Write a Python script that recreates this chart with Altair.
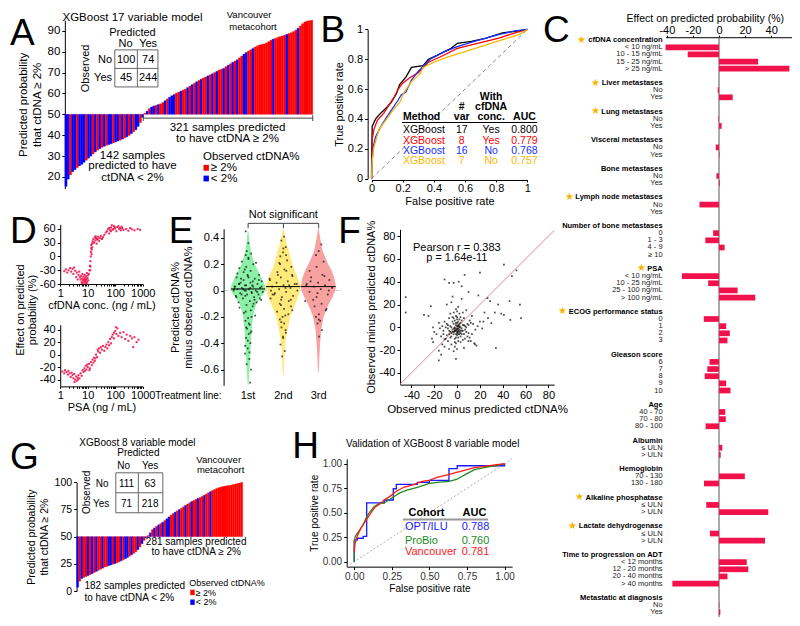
import altair as alt
import pandas as pd

W, H = 784, 610
SX, SY = W / 800.0, H / 626.0


def X(v):
    return round(v * SX, 2)


def Y(v):
    return round(v * SY, 2)


FONT = "Liberation Sans"
LBL = "replace(format(datum.value, '~g'), '\u2212', '-')"
CRIMSON = "#F2124B"
RED = "#FF0000"
BLUE = "#0000FF"
GOLD = "#F5B800"

# ---------------- Panel A: XGBoost 17 variable model ----------------
a_below = [15.5, 19.0, 21.0, 22.5, 23.5, 24.5, 25.3, 26.0, 27.0, 28.0, 29.0, 30.0, 31.0, 32.0,
           32.8, 33.5, 34.2, 34.7, 35.1, 35.5, 35.9, 36.3, 36.8, 37.2, 37.6, 38.1, 38.6, 39.2,
           39.9, 40.7, 41.6, 42.6, 44.2, 46.0, 48.5]
a_above = [50.5, 51.5, 52.8, 53.5, 54.0, 54.3, 54.7, 55.0, 55.6, 56.5, 57.4, 58.2, 58.9, 59.5,
           60.1, 60.6, 61.1, 61.6, 62.1, 62.8, 63.5, 64.2, 64.9, 65.6, 66.2, 66.8, 67.4, 67.9,
           68.4, 68.9, 69.4, 70.0, 70.6, 71.2, 71.6, 72.0, 72.8, 73.5, 74.2, 74.9, 75.5, 76.1,
           77.0, 77.9, 78.8, 79.6, 80.3, 80.9, 81.5, 82.2, 82.8, 83.2, 83.5, 83.7, 84.2, 84.8,
           85.5, 86.0, 86.4, 86.8, 87.2, 87.5, 87.9, 88.3, 88.7, 89.1, 89.6, 90.3, 91.2, 92.3,
           93.4, 94.2, 94.6, 94.8, 95.0]
a_red_in_below = [2, 5, 9, 12, 14, 16, 18, 21, 24, 26, 28, 30, 33]
a_blue_in_above = [1, 3, 4, 6, 9, 11, 12, 13, 16, 19, 21, 23, 25, 28, 30, 32, 35, 37, 39, 41,
                   44, 45, 48, 57, 63, 68]
a_conf = [100, 74, 45, 244]
a_counts = [142, 321]

# ---------------- Panel G: XGBoost 8 variable model ----------------
g_below = [3.5, 9.0, 11.5, 12.5, 13.3, 14.2, 15.0, 16.0, 17.0, 18.0, 19.0, 20.0, 21.0, 22.0,
           22.6, 23.3, 24.0, 24.6, 25.2, 26.0, 26.8, 27.8, 28.8, 29.7, 30.8, 32.0, 33.3, 34.6,
           36.0, 38.0, 40.5, 43.5, 46.5, 49.0]
g_above = [51.0, 53.5, 56.5, 58.0, 59.5, 60.8, 62.0, 63.3, 64.8, 66.5, 68.2, 69.8, 71.2, 72.5,
           73.8, 75.0, 76.1, 77.5, 78.8, 80.0, 81.2, 82.3, 83.3, 84.3, 85.2, 86.0, 87.0, 88.0,
           89.2, 90.3, 91.4, 92.5, 93.4, 94.3, 95.0, 95.6, 96.1, 96.5, 96.8, 97.0, 97.4, 97.9,
           98.4, 98.9, 99.4, 99.8]
g_red_in_below = [1, 3, 4, 6, 8, 10, 11, 13, 14, 17, 19, 20, 22, 25, 27, 28, 30, 32]
g_blue_in_above = [1, 3, 5, 7, 9, 10, 13, 15, 18, 21, 24, 27, 30]
g_conf = [111, 63, 71, 218]
g_counts = [182, 281]

# ---------------- Panel B: ROC curves ----------------
b_fpr_17 = [0, 0.0, 0.004, 0.026, 0.06, 0.1, 0.125, 0.16, 0.18, 0.22, 0.256, 0.33, 0.365, 0.42, 0.51, 0.55, 0.64, 0.73, 0.84, 0.945, 1.0]
b_tpr_17 = [0, 0.1, 0.35, 0.40, 0.44, 0.48, 0.51, 0.57, 0.63, 0.68, 0.745, 0.757, 0.80, 0.826, 0.873, 0.907, 0.92, 0.94, 0.977, 0.99, 1.0]
b_fpr_8 = [0, 0.004, 0.015, 0.037, 0.08, 0.11, 0.147, 0.168, 0.2, 0.245, 0.3, 0.365, 0.44, 0.55, 0.68, 0.81, 0.92, 1.0]
b_tpr_8 = [0, 0.26, 0.33, 0.39, 0.44, 0.49, 0.55, 0.595, 0.64, 0.676, 0.71, 0.78, 0.815, 0.873, 0.907, 0.94, 0.977, 1.0]
b_fpr_16 = [0, 0.0, 0.01, 0.026, 0.06, 0.09, 0.125, 0.17, 0.19, 0.22, 0.256, 0.3, 0.376, 0.464, 0.55, 0.66, 0.814, 0.92, 1.0]
b_tpr_16 = [0, 0.05, 0.21, 0.28, 0.35, 0.40, 0.456, 0.525, 0.56, 0.58, 0.66, 0.72, 0.80, 0.85, 0.884, 0.92, 0.965, 0.99, 1.0]
b_fpr_7 = [0, 0.004, 0.015, 0.048, 0.09, 0.136, 0.18, 0.21, 0.256, 0.31, 0.33, 0.4, 0.486, 0.595, 0.7, 0.836, 0.945, 1.0]
b_tpr_7 = [0, 0.12, 0.21, 0.33, 0.39, 0.456, 0.51, 0.58, 0.65, 0.70, 0.745, 0.78, 0.815, 0.85, 0.884, 0.93, 0.965, 1.0]
b_method = ["XGBoost", "XGBoost", "XGBoost", "XGBoost"]
b_nvar = [17, 8, 16, 7]
b_cfdna = ["Yes", "Yes", "No", "No"]
b_auc = [0.800, 0.779, 0.768, 0.757]
b_colors = ["black", RED, "#1530FF", GOLD]

# ---------------- Panel C: effect sizes ----------------
c_groups = ["cfDNA concentration", "Liver metastases", "Lung metastases", "Visceral metastases",
            "Bone metastases", "Lymph node metastases", "Number of bone metastases", "PSA",
            "ECOG performance status", "Gleason score", "Age", "Albumin", "Hemoglobin",
            "Alkaline phosphatase", "Lactate dehydrogenase", "Time to progression on ADT",
            "Metastatic at diagnosis"]
c_starred = [True, True, True, False, False, True, False, True, True, False, False, False, False,
             True, True, False, False]
c_levels = [["< 10 ng/mL", "10 - 15 ng/mL", "15 - 25 ng/mL", "> 25 ng/mL"],
            ["No", "Yes"], ["No", "Yes"], ["No", "Yes"], ["No", "Yes"], ["No", "Yes"],
            ["0", "1 - 3", "4 - 9", "\u2265 10"],
            ["< 10 ng/mL", "10 - 25 ng/mL", "25 - 100 ng/mL", "> 100 ng/mL"],
            ["0", "1", "2", "3"], ["6", "7", "8", "9", "10"],
            ["40 - 70", "70 - 80", "80 - 100"], ["\u2264 ULN", "> ULN"], ["70 - 130", "130 - 180"],
            ["\u2264 ULN", "> ULN"], ["\u2264 ULN", "> ULN"],
            ["< 12 months", "12 - 20 months", "20 - 40 months", "> 40 months"], ["No", "Yes"]]
c_effects = [[-41, -24, 30, 54], [-1, 10.5], [-0.4, 2], [-2.5, 0.4], [-2, 0.6], [-15, 0],
             [-4.5, -10.5, 4.3, 0], [-28.5, -8.3, 14.3, 27.8], [-11.7, 5.5, 8.3, 6.5],
             [-7.3, -9, -11, 5.5, 8.8], [4.8, 5.2, -10.3], [2.5, 1.3], [19.8, -11.5],
             [-9.8, 37.8], [-7, 35.3], [21.3, 22.5, 6.5, -35.8], [0.3, 1]]

# ---------------- Panel D: partial dependence ----------------
d_cfdna = [(1.4, -32), (1.6, -28), (1.8, -35), (2.0, -30), (2.3, -25), (2.5, -33), (2.8, -27),
           (3.0, -38), (3.2, -24), (3.5, -31), (3.8, -45), (4.0, -35), (4.3, -50), (4.6, -40),
           (4.9, -33), (5.2, -45), (5.5, -50), (5.8, -42), (6.0, -55), (6.3, -48), (6.5, -38),
           (6.8, -52), (7.0, -44), (7.2, -57), (7.5, -49), (7.8, -40), (8.0, -53), (8.2, -46),
           (8.5, -58), (8.8, -43), (9.0, -50), (9.3, -36), (9.5, -55), (9.8, -47), (10.2, -41),
           (10.5, -52), (11, -38), (11.5, -30), (12, -20), (12.5, -10), (12.8, 0), (13, 10),
           (13.3, 18), (13.5, 25), (13.8, 5), (14, 15), (14.3, 28), (14.6, 20), (15, 33),
           (16, 38), (17, 30), (18, 42), (19, 35), (20, 40), (21, 28), (22, 37), (24, 43),
           (26, 34), (28, 40), (30, 45), (33, 38), (36, 42), (40, 47), (45, 52), (50, 55),
           (55, 60), (60, 50), (65, 57), (70, 63), (75, 68), (80, 58), (85, 60), (90, 66),
           (95, 64), (100, 61), (110, 55), (120, 64), (130, 66), (140, 60), (150, 62), (160, 57),
           (170, 65), (180, 62), (200, 58), (250, 60), (300, 56), (350, 62), (400, 59),
           (500, 57), (650, 60), (800, 58), (6.2, -58), (7.7, -54), (9.1, -59), (8.3, -51),
           (12.2, -30), (12.6, -22), (16.5, 31), (19.5, 44), (23, 38), (60, 62), (70, 55)]
d_psa = [(1.2, -27), (1.4, -30), (1.5, -25), (1.7, -28), (1.9, -32), (2.0, -26), (2.2, -30),
         (2.4, -36), (2.6, -29), (2.8, -33), (3.0, -38), (3.2, -31), (3.5, -40), (3.8, -35),
         (4.0, -42), (4.3, -37), (4.6, -33), (5.0, -38), (5.5, -30), (6, -34), (6.5, -25),
         (7, -28), (7.5, -22), (8, -26), (8.5, -18), (9, -24), (10, -20), (11, -15), (12, -22),
         (13, -12), (14, -17), (15, -8), (16, -13), (17, -5), (18, -10), (20, 0), (22, -4),
         (24, 5), (26, 10), (28, 3), (30, 12), (33, 8), (36, 14), (40, 6), (44, 12), (48, 16),
         (52, 10), (56, 20), (60, 15), (65, 25), (70, 18), (75, 28), (80, 32), (90, 26),
         (100, 38), (110, 33), (120, 42), (130, 30), (150, 35), (170, 28), (200, 36), (230, 25),
         (260, 32), (300, 22), (350, 30), (400, 26), (450, 12), (500, 28), (600, 20), (700, 24),
         (3.3, -44), (4.5, -40), (9.5, -16), (11.5, -25), (19, -6), (23, 8), (90, 35), (105, 44)]

# ---------------- Panel E: residuals by treatment line ----------------
e_lines = ["1st", "2nd", "3rd"]
e_colors = ["#8CF0A6", "#FFE97A", "#F7A1A1"]
e_medians = [0.012, 0.03, 0.03]
e1_y = [0.45, 0.40, 0.35, 0.30, 0.25, 0.20, 0.15, 0.10, 0.05, 0.02, -0.02, -0.05, -0.10, -0.15,
        -0.20, -0.30, -0.40, -0.50, -0.60, -0.72]
e1_w = [0.01, 0.03, 0.05, 0.08, 0.13, 0.19, 0.28, 0.38, 0.46, 0.50, 0.45, 0.36, 0.24, 0.18,
        0.14, 0.10, 0.08, 0.06, 0.04, 0.01]
e2_y = [0.47, 0.40, 0.35, 0.30, 0.25, 0.20, 0.15, 0.10, 0.05, 0.03, 0.0, -0.05, -0.10, -0.15,
        -0.20, -0.30, -0.40, -0.50, -0.65]
e2_w = [0.01, 0.06, 0.10, 0.16, 0.21, 0.26, 0.33, 0.41, 0.48, 0.50, 0.47, 0.42, 0.35, 0.27,
        0.20, 0.12, 0.06, 0.035, 0.01]
e3_y = [0.47, 0.40, 0.30, 0.20, 0.15, 0.10, 0.05, 0.03, 0.0, -0.05, -0.10, -0.15, -0.20, -0.30,
        -0.40, -0.50, -0.62]
e3_w = [0.01, 0.05, 0.12, 0.28, 0.38, 0.45, 0.49, 0.50, 0.48, 0.40, 0.30, 0.22, 0.15, 0.08,
        0.05, 0.03, 0.01]
e1_pts = [0.30, 0.28, 0.25, 0.22, 0.20, 0.18, 0.17, 0.15, 0.14, 0.12, 0.11, 0.10, 0.09, 0.08,
          0.07, 0.06, 0.05, 0.05, 0.04, 0.03, 0.03, 0.02, 0.02, 0.01, 0.01, 0.0, 0.0, -0.01,
          -0.01, -0.02, -0.03, -0.03, -0.04, -0.05, -0.06, -0.07, -0.08, -0.09, -0.10, -0.11,
          -0.13, -0.15, -0.17, -0.19, -0.21, -0.23, -0.26, -0.29, -0.31, -0.33, -0.36, -0.40,
          -0.44, -0.48, -0.52, -0.56, -0.60, 0.36, 0.45, -0.70, 0.04, 0.0, -0.02, 0.06, 0.08,
          0.12, -0.05, -0.07, 0.01, 0.03, 0.02, 0.05, -0.01, 0.0, 0.03, 0.07, -0.03, -0.06,
          0.10, 0.13, -0.12, -0.16, -0.20, -0.25, -0.28, -0.32, -0.38, -0.42, -0.47, 0.16, 0.21,
          0.24, 0.27, -0.09, -0.04, 0.01, 0.04, 0.09]
e2_pts = [0.41, 0.38, 0.33, 0.29, 0.26, 0.23, 0.20, 0.18, 0.16, 0.14, 0.12, 0.10, 0.09, 0.07,
          0.06, 0.05, 0.04, 0.03, 0.02, 0.01, 0.0, -0.01, -0.02, -0.04, -0.05, -0.06, -0.08,
          -0.10, -0.12, -0.14, -0.16, -0.18, -0.20, -0.22, -0.25, -0.28, -0.32, -0.36, -0.41,
          -0.46, -0.50, 0.05, 0.02, -0.03, 0.11, -0.07, 0.08, 0.15, 0.21, 0.27, 0.32, -0.03,
          -0.07, -0.11, -0.15, -0.19, -0.24, -0.30, -0.35, 0.0, 0.04, 0.12]
e3_pts = [0.35, 0.30, 0.27, 0.22, 0.18, 0.15, 0.12, 0.10, 0.08, 0.06, 0.05, 0.04, 0.03, 0.02,
          0.01, -0.01, -0.03, -0.05, -0.08, -0.10, -0.12, -0.15, -0.18, -0.20, -0.23, -0.25,
          -0.30, -0.35, 0.07, 0.0, -0.02, 0.04, 0.11, -0.07, -0.14, -0.22]

# ---------------- Panel F: observed vs predicted ----------------
f_points = [(-2, -3), (0, -1), (1, -4), (-1, 2), (3, 0), (-4, -2), (2, 3), (-3, -6), (0, -7),
            (4, -3), (-6, 1), (1, 5), (-1, -9), (5, 2), (-5, -5), (2, -2), (-2, 6), (6, -6),
            (0, 1), (-3, 3), (3, -8), (-7, -3), (1, -12), (-1, 10), (7, 1), (-8, 2), (4, 6),
            (-4, 9), (2, 12), (-2, -13), (0, 14), (5, -11), (-6, -9), (8, -4), (-9, -7), (3, 9),
            (-10, 0), (9, 3), (1, -1), (-1, -2), (0, -4), (2, 0), (-2, -1), (1, 2), (-3, -4),
            (3, -3), (0, 4), (-1, -6), (2, -6), (-5, 0), (4, -1), (0, 7), (-1, 16), (1, 18),
            (-3, 13), (6, 8), (-8, -12), (10, -5), (-12, -3), (-14, -8), (11, 6), (12, -12),
            (-11, 5), (14, 3), (-15, -1), (16, -2), (-16, 4), (13, 10), (-13, -15), (15, -14),
            (-18, -6), (18, 1), (-20, -4), (20, 5), (-22, -10), (22, -1), (-21, 0), (17, -16),
            (-9, 20), (8, 15), (-5, 22), (4, 25), (-7, -19), (6, -18), (-3, -21), (-11, -17),
            (-45, 26.5), (-45, 13), (-23, 18.5), (-29, 11), (-25, 10), (-11, 42), (-7, 39),
            (-3, 39), (1.4, 40), (4, 36), (6.6, 46), (-4, 27), (10, 31), (20, 48), (18.6, 28),
            (26.6, 25.6), (29, 23), (41, 55), (48, 45), (46, 23), (52, 50), (36, 20),
            (38.6, 12), (41, 11), (46.6, 6.5), (24, 13), (27, 8), (30, 3.7), (23, 5), (34, -18),
            (-16, -20.5), (-14, -24), (-16, -29), (-1, -27.6), (-11, -10.5), (-21, -13),
            (15.7, -15), (10, -12), (33, 13), (55, 20), (56, 8), (-2, -3.5), (1, -2.5),
            (-1, -3), (0, -5), (1, -6), (2, -4), (-3, -1), (-4, -4), (3, -5), (1, 1), (-2, 0),
            (0, -2), (2, 1), (-1, 4), (-5, -8), (4, -6), (-6, -4), (5, -3), (3, 4), (-4, 5),
            (6, 2), (-2, -10), (1, -9), (-7, -6), (7, -2), (-3, 8), (2, 7), (-8, -1), (8, 0),
            (0, 9), (-1, -14), (3, -13), (-9, 3), (9, -8), (-10, -10), (10, 2), (-12, -6),
            (12, 4), (-13, 1), (13, -6), (-6, 12), (5, 13), (-2, -17), (0, -19), (-5, -15),
            (7, -10), (-7, 8), (11, -9)]
f_r, f_p = 0.383, "1.64e-11"

# ---------------- Panel H: validation ROC ----------------
h_opt_fpr = [0, 0, 0.02, 0.02, 0.06, 0.06, 0.083, 0.083, 0.2, 0.2, 0.26, 0.26, 0.28, 0.28, 0.42,
             0.42, 0.5, 0.5, 0.63, 0.63, 0.685, 0.685, 1.0, 1.0]
h_opt_tpr = [0, 0.22, 0.22, 0.24, 0.24, 0.26, 0.26, 0.60, 0.60, 0.63, 0.63, 0.745, 0.745, 0.79,
             0.79, 0.81, 0.81, 0.83, 0.83, 0.95, 0.95, 0.98, 0.98, 1.0]
h_pro_fpr = [0, 0, 0.005, 0.02, 0.04, 0.06, 0.08, 0.1, 0.13, 0.16, 0.2, 0.25, 0.3, 0.35, 0.42,
             0.5, 0.55, 0.63, 0.68, 0.75, 0.8, 0.9, 0.95, 1.0]
h_pro_tpr = [0, 0.15, 0.25, 0.29, 0.33, 0.38, 0.45, 0.5, 0.56, 0.59, 0.6, 0.65, 0.7, 0.73, 0.76,
             0.8, 0.81, 0.82, 0.84, 0.9, 0.94, 0.97, 0.98, 1.0]
h_van_fpr = [0, 0.005, 0.02, 0.04, 0.06, 0.09, 0.12, 0.14, 0.17, 0.2, 0.24, 0.28, 0.33, 0.4,
             0.45, 0.5, 0.55, 0.6, 0.65, 0.7, 0.8, 0.9, 1.0]
h_van_tpr = [0.1, 0.18, 0.26, 0.33, 0.38, 0.45, 0.52, 0.56, 0.59, 0.63, 0.67, 0.72, 0.76, 0.79,
             0.82, 0.83, 0.86, 0.88, 0.9, 0.92, 0.96, 0.98, 1.0]
h_cohorts = ["OPT/ILU", "ProBio", "Vancouver"]
h_auc = [0.788, 0.760, 0.781]
h_colors = ["#1A1AFF", "#228B22", "#FF1A1A"]


# ====================== helpers ======================
def ax(orient, pos, **kw):
    if orient == "left":
        off = -X(pos)
    elif orient == "bottom":
        off = Y(pos) - H
    else:
        off = -Y(pos)
    base = dict(orient=orient, offset=off, grid=False, labelExpr=LBL, labelFlush=False,
                labelOverlap=False)
    base.update(kw)
    return alt.Axis(**base)


def lin(domain, r0, r1):
    return alt.Scale(domain=domain, range=[r0, r1], nice=False, zero=False)


def texts(items, size=11, align="center", baseline="middle", color="black", weight="normal",
          angle=0):
    df = pd.DataFrame([(X(a), Y(b), t) for a, b, t in items], columns=["px", "py", "t"])
    return alt.Chart(df).mark_text(fontSize=size, align=align, baseline=baseline, color=color,
                                   fontWeight=weight, angle=angle, font=FONT).encode(
        x=alt.X("px:Q", scale=None, axis=None), y=alt.Y("py:Q", scale=None, axis=None),
        text="t:N")


def segs(items, color="black", width=1.0, dash=None):
    df = pd.DataFrame([(X(a), Y(b), X(c), Y(d)) for a, b, c, d in items],
                      columns=["x1", "y1", "x2", "y2"])
    kw = dict(color=color, strokeWidth=width)
    if dash:
        kw["strokeDash"] = dash
    return alt.Chart(df).mark_rule(**kw).encode(
        x=alt.X("x1:Q", scale=None, axis=None), x2="x2:Q",
        y=alt.Y("y1:Q", scale=None, axis=None), y2="y2:Q")


def boxes(items, fill="white", fill_opacity=0.0, stroke=None, width=1.0):
    df = pd.DataFrame([(X(a), Y(b), X(c), Y(d)) for a, b, c, d in items],
                      columns=["x1", "y1", "x2", "y2"])
    kw = dict(fill=fill, fillOpacity=fill_opacity)
    if stroke:
        kw.update(stroke=stroke, strokeWidth=width)
    return alt.Chart(df).mark_rect(**kw).encode(
        x=alt.X("x1:Q", scale=None, axis=None), x2="x2:Q",
        y=alt.Y("y1:Q", scale=None, axis=None), y2="y2:Q")


def waterfall(below, above, red_idx, blue_idx, x0, x1, yscale, yaxis):
    vals = below + above
    cols = [RED if i in red_idx else BLUE for i in range(len(below))] + \
           [BLUE if j in blue_idx else RED for j in range(len(above))]
    df = pd.DataFrame({"i": list(range(len(vals))), "i2": [k + 1 for k in range(len(vals))],
                       "v": vals, "c": cols})
    return alt.Chart(df).mark_rect(strokeWidth=0.3).encode(
        x=alt.X("i:Q", scale=lin([0, len(vals)], X(x0), X(x1)), axis=None),
        x2="i2:Q",
        y=alt.Y("v:Q", scale=yscale, axis=yaxis),
        y2=alt.Y2Datum(50),
        color=alt.Color("c:N", scale=None),
        stroke=alt.Stroke("c:N", scale=None))


BW = {" ": 278, "a": 556, "b": 611, "c": 556, "d": 611, "e": 556, "f": 333, "g": 611, "h": 611,
      "i": 278, "j": 278, "k": 556, "l": 278, "m": 889, "n": 611, "o": 611, "p": 611, "q": 611,
      "r": 389, "s": 556, "t": 333, "u": 611, "v": 556, "w": 778, "x": 556, "y": 556, "z": 500,
      "A": 722, "C": 722, "D": 722, "E": 667, "G": 778, "L": 611, "N": 722, "O": 778, "P": 667,
      "S": 667, "T": 611}


def bold_width(s, size):
    return sum(BW.get(ch, 600) for ch in s) / 1000.0 * size


layers = []

# ====================== Panel A ======================
yA = lin([14.5, 95], Y(185.2), Y(12.6))
layers.append(waterfall(a_below, a_above, a_red_in_below, a_blue_in_above, 58, 311, yA,
                        ax("left", 58, values=list(range(20, 91, 10)),
                           title=["Predicted probability", "that ctDNA \u2265 2%"],
                           titlePadding=5, labelFontSize=11.5, titleFontSize=11.5,
                           tickSize=3)))
layers.append(texts([(127, 10, "XGBoost 17 variable model")], size=11.5))
layers.append(texts([(246, 7, "Vancouver"), (250, 19.5, "metacohort")], size=9.5))
layers.append(texts([(127, 26, "Predicted"), (120, 37, "No"), (143, 37, "Yes"),
                     (99, 53, "No"), (97, 72, "Yes"),
                     (120.5, 53, str(a_conf[0])), (143, 53, str(a_conf[1])),
                     (120.5, 72, str(a_conf[2])), (143, 72, str(a_conf[3]))], size=11))
layers.append(texts([(80, 62, "Observed")], size=11, angle=270))
layers.append(boxes([(109, 43, 153, 81)], stroke="#666666", width=1))
layers.append(segs([(132, 43, 132, 81), (109, 62, 153, 62)], color="#666666"))
layers.append(segs([(138, 113, 311, 113), (138, 110, 138, 116), (311, 110, 311, 116)],
                   color="#444444", width=1))
layers.append(texts([(224, 123, f"{a_counts[1]} samples predicted"),
                     (224, 134, "to have ctDNA \u2265 2%"),
                     (127, 151.5, f"{a_counts[0]} samples"), (127, 162.5, "predicted to have"),
                     (127, 174, "ctDNA < 2%")], size=11.5))
layers.append(texts([(199, 153, "Observed ctDNA%"), (207, 164, "\u2265 2%"),
                     (207, 175, "< 2%")], size=11.5, align="left"))
layers.append(boxes([(199.5, 161, 205, 167)], fill=RED, fill_opacity=1))
layers.append(boxes([(199.5, 172, 205, 178)], fill=BLUE, fill_opacity=1))

# ====================== Panel G ======================
yG = lin([0, 100], Y(598.3), Y(486.7))
layers.append(waterfall(g_below, g_above, g_red_in_below, g_blue_in_above, 70, 239.5, yG,
                        ax("left", 70, values=[0, 25, 50, 75, 100],
                           title=["Predicted probability", "that ctDNA \u2265 2%"],
                           titlePadding=5, labelFontSize=10.5, titleFontSize=10.5,
                           tickSize=3)))
layers.append(texts([(132, 446, "XGBoost 8 variable model"), (133, 457, "Predicted"),
                     (118, 470, "No"), (145, 470, "Yes"), (96, 488, "No"), (95, 509, "Yes"),
                     (121, 488, str(g_conf[0])), (145, 488, str(g_conf[1])),
                     (121, 509, str(g_conf[2])), (145, 509, str(g_conf[3])),
                     (192, 548.5, f"{g_counts[1]} samples predicted"),
                     (192, 558.5, "to have ctDNA \u2265 2%")], size=10))
layers.append(texts([(81, 497, "Observed")], size=10, angle=270))
layers.append(texts([(215, 464, "Vancouver"), (217, 474.5, "metacohort")], size=9.5))
layers.append(texts([(78, 593, f"{g_counts[0]} samples predicted"),
                     (78, 605, "to have ctDNA < 2%")], size=10, align="left"))
layers.append(texts([(185, 590, "Observed ctDNA%"), (191.5, 600, "\u2265 2%"),
                     (191.5, 610, "< 2%")], size=9, align="left"))
layers.append(boxes([(186, 597, 190.5, 602.5)], fill=RED, fill_opacity=1))
layers.append(boxes([(186, 607, 190.5, 612.5)], fill=BLUE, fill_opacity=1))
layers.append(boxes([(110, 477, 158, 518)], stroke="#666666", width=1))
layers.append(segs([(133, 477, 133, 518), (110, 497.5, 158, 497.5)], color="#666666"))

# ====================== Panel B ======================
xB = lin([0, 1], X(371), X(530))
yB = lin([0, 1], Y(175), Y(22))
b_rows = []
for name, fx, ty, col in [("17", b_fpr_17, b_tpr_17, b_colors[0]),
                          ("8", b_fpr_8, b_tpr_8, b_colors[1]),
                          ("16", b_fpr_16, b_tpr_16, b_colors[2]),
                          ("7", b_fpr_7, b_tpr_7, b_colors[3])]:
    for k, (a, b) in enumerate(zip(fx, ty)):
        b_rows.append({"m": name, "k": k, "fpr": a, "tpr": b, "c": col})
b_df = pd.DataFrame(b_rows)
b_diag = alt.Chart(pd.DataFrame({"fpr": [0, 1], "tpr": [0, 1]})).mark_line(
    color="#888888", strokeDash=[4, 3], strokeWidth=1).encode(
    x=alt.X("fpr:Q", scale=xB, axis=ax("bottom", 176.5, values=[0, 0.2, 0.4, 0.6, 0.8, 1],
                                       title="False positive rate", tickSize=2, labelPadding=1,
                                       titlePadding=2)),
    y=alt.Y("tpr:Q", scale=yB, axis=ax("left", 367, values=[0, 0.2, 0.4, 0.6, 0.8, 1],
                                       title="True positive rate", tickSize=3, titlePadding=3)))
b_lines = alt.Chart(b_df).mark_line(strokeWidth=1.3).encode(
    x=alt.X("fpr:Q", scale=xB), y=alt.Y("tpr:Q", scale=yB),
    color=alt.Color("c:N", scale=None), detail="m:N", order="k:Q")
layers.append(alt.layer(b_diag, b_lines))
layers.append(texts([(463, 101.5, "#"), (493, 91.5, "With"), (493, 101.5, "cfDNA"),
                     (463, 111.5, "var"), (493, 111.5, "conc."), (527, 111.5, "AUC")],
                    size=10.5, weight="bold"))
layers.append(texts([(403, 111.5, "Method")], size=10.5, weight="bold", align="left"))
layers.append(segs([(402, 117.5, 540, 117.5)], color="black", width=1))
for r, yy in enumerate([125.5, 136, 146.5, 157]):
    col = b_colors[r]
    layers.append(texts([(403, yy, b_method[r])], size=10.5, align="left", color=col))
    layers.append(texts([(463, yy, str(b_nvar[r])), (493, yy, b_cfdna[r]),
                         (527, yy, f"{b_auc[r]:.3f}")], size=10.5, color=col))

# ====================== Panel C ======================
rows = []
rid = 0
for gi, name in enumerate(c_groups):
    rows.append({"rid": rid, "kind": "h", "label": name, "v": None, "star": c_starred[gi]})
    rid += 1
    for lvl, v in zip(c_levels[gi], c_effects[gi]):
        rows.append({"rid": rid, "kind": "l", "label": lvl, "v": v, "star": False})
        rid += 1
    if gi < len(c_groups) - 1:
        rows.append({"rid": rid, "kind": "g", "label": "", "v": None, "star": False})
        rid += 1
c_df = pd.DataFrame(rows)
c_ids = list(range(rid))
cy_scale = alt.Scale(domain=c_ids, range=[Y(29.3), Y(623.7)], paddingInner=0.2,
                     paddingOuter=0.1)
cx_scale = lin([-41, 56], X(671), X(800))
cY = alt.Y("rid:O", scale=cy_scale, axis=None)
c_bar_df = c_df[c_df["kind"] == "l"][["rid", "v"]]
c_bars = alt.Chart(c_bar_df).mark_bar(color=CRIMSON).encode(
    x=alt.X("v:Q", scale=cx_scale,
            axis=ax("top", 30, values=[-40, -20, 0, 20, 40],
                    title="Effect on predicted probability (%)", tickSize=2, labelPadding=0,
                    labelFontSize=11, titleFontSize=10.5, titleX=X(711), titleY=Y(11) - Y(30),
                    titleBaseline="middle", titleAnchor="middle")),
    x2=alt.X2Datum(0), y=cY)
c_zero = alt.Chart(pd.DataFrame({"z": [0]})).mark_rule(color="#555555", strokeWidth=1).encode(
    x=alt.XDatum(0), y=alt.value(Y(30)), y2=alt.value(Y(625)))
C_FS = 7.5
c_lvl = alt.Chart(c_df[c_df["kind"] == "l"][["rid", "label"]]).mark_text(
    align="right", baseline="middle", dx=-3, fontSize=C_FS, color="#222222", font=FONT).encode(
    x=alt.XDatum(-41), y=cY, text="label:N")
c_hdr = alt.Chart(c_df[c_df["kind"] == "h"][["rid", "label"]]).mark_text(
    align="right", baseline="middle", dx=-3, fontSize=C_FS, fontWeight="bold", color="black",
    font=FONT).encode(x=alt.XDatum(-41), y=cY, text="label:N")
c_layers = [c_zero, c_bars, c_lvl, c_hdr]
for _, r in c_df[(c_df["kind"] == "h") & (c_df["star"])].iterrows():
    wdt = bold_width(r["label"], C_FS)
    c_layers.append(alt.Chart(pd.DataFrame({"rid": [int(r["rid"])]})).mark_text(
        text="\u2605", color="#F5B400", fontSize=10, align="center", baseline="middle",
        dx=-(3 + wdt + 6), dy=-0.5).encode(x=alt.XDatum(-41), y=cY))
layers.append(alt.layer(*c_layers))

# ====================== Panel D ======================
LOGTICKS = [1, 2, 3, 4, 5, 6, 7, 8, 9, 10, 20, 30, 40, 50, 60, 70, 80, 90, 100, 200, 300, 400,
            500, 600, 700, 800, 900, 1000]
LOGLBL = "indexof([1, 10, 100, 1000], datum.value) >= 0 ? format(datum.value, 'd') : ''"


def dpanel(points, ydom, ybot, ytop, yticks, xaxis_y, xtitle):
    df = pd.DataFrame(points, columns=["conc", "eff"])
    return alt.Chart(df).mark_square(size=4, color=CRIMSON, opacity=0.9).encode(
        x=alt.X("conc:Q", scale=alt.Scale(type="log", domain=[1, 1000],
                                          range=[X(53.3), X(137.5)], nice=False),
                axis=ax("bottom", xaxis_y, values=LOGTICKS, labelExpr=LOGLBL, title=xtitle,
                        tickSize=2, labelPadding=1, titlePadding=1)),
        y=alt.Y("eff:Q", scale=lin(ydom, Y(ybot), Y(ytop)),
                axis=ax("left", 53.3, values=yticks, title=None, tickSize=3)))


layers.append(dpanel(d_cfdna, [-60, 70], 283.3, 222, [-60, -30, 0, 30, 60], 283.3,
                     "cfDNA conc. (ng / mL)"))
layers.append(dpanel(d_psa, [-51, 48], 388.3, 325, [-40, -20, 0, 20, 40], 388.3,
                     "PSA (ng / mL)"))
layers.append(texts([(13, 310, "Effect on predicted"), (25.5, 310, "probability (%)")],
                    size=11, angle=270))

# ====================== Panel E ======================
xE = lin([0.303, 3.65], X(220), X(340))
yE = lin([-0.72, 0.47], Y(387.2), Y(226.5))
v_rows = []
for g, (ys, ws) in enumerate([(e1_y, e1_w), (e2_y, e2_w), (e3_y, e3_w)], start=1):
    for yy, ww in zip(ys, ws):
        v_rows.append({"g": g, "y": yy, "xl": g - ww, "xr": g + ww, "c": e_colors[g - 1]})
v_df = pd.DataFrame(v_rows)
p_rows = []
for g, pts in enumerate([e1_pts, e2_pts, e3_pts], start=1):
    for i, yy in enumerate(pts):
        u = ((i * 0.618034 + g * 0.31) % 1.0) * 2 - 1
        d = abs(yy - 0.02)
        amp = 0.42 if d < 0.12 else (0.26 if d < 0.22 else 0.1)
        p_rows.append({"x": g + u * amp, "y": yy})
p_df = pd.DataFrame(p_rows)
m_df = pd.DataFrame({"m1": [g - 0.49 for g in (1, 2, 3)], "m2": [g + 0.49 for g in (1, 2, 3)],
                     "y": e_medians})
e_zero = alt.Chart(pd.DataFrame({"x1": [0.35], "x2": [3.65], "y": [0]})).mark_rule(
    color="#BBBBBB", strokeWidth=0.8, strokeDash=[3, 2]).encode(
    x=alt.X("x1:Q", scale=xE, axis=None), x2="x2:Q",
    y=alt.Y("y:Q", scale=yE,
            axis=ax("left", 220, values=[-0.6, -0.4, -0.2, 0, 0.2, 0.4],
                    title=["Predicted ctDNA%", "minus observed ctDNA%"], tickSize=3,
                    titlePadding=6)))
violins = []
for g in (1, 2, 3):
    violins.append(alt.Chart(v_df[v_df["g"] == g]).mark_area(
        orient="horizontal", opacity=1, color=e_colors[g - 1], interpolate="linear").encode(
        x=alt.X("xl:Q", scale=xE, stack=False), x2="xr:Q",
        y=alt.Y("y:Q", scale=yE, stack=False)))
e_pts = alt.Chart(p_df).mark_square(size=3, color="black").encode(
    x=alt.X("x:Q", scale=xE), y=alt.Y("y:Q", scale=yE))
e_med = alt.Chart(m_df).mark_rule(color="black", strokeWidth=1).encode(
    x=alt.X("m1:Q", scale=xE), x2="m2:Q", y=alt.Y("y:Q", scale=yE))
layers.append(alt.layer(e_zero, *violins, e_pts, e_med))
layers.append(texts([(281, 212, "Not significant"), (245, 398, e_lines[0]),
                     (281, 398, e_lines[1]), (317, 398, e_lines[2])], size=11))
layers.append(texts([(218, 398, "Treatment line:")], size=10, align="right"))
layers.append(segs([(245, 221, 317, 221), (245, 221, 245, 226), (281, 221, 281, 226),
                    (317, 221, 317, 226)], color="#444444", width=1))

# ====================== Panel F ======================
xF = lin([-50, 85], X(400), X(557.3))
yF = lin([-50, 86], Y(386.2), Y(227.1))
f_df = pd.DataFrame(f_points, columns=["obs", "pred"])
f_diag = alt.Chart(pd.DataFrame({"obs": [-50, 85], "pred": [-50, 85]})).mark_line(
    color="#F08080", strokeWidth=1).encode(
    x=alt.X("obs:Q", scale=xF, axis=ax("bottom", 386.5, values=list(range(-40, 81, 20)),
                                       title="Observed minus predicted ctDNA%", tickSize=3,
                                       titlePadding=3, titleFontSize=11.5)),
    y=alt.Y("pred:Q", scale=yF, axis=ax("left", 400, values=list(range(-40, 81, 20)),
                                        title="Observed minus predicted ctDNA%", tickSize=3,
                                        titlePadding=3, titleFontSize=11)))
f_pts = alt.Chart(f_df).mark_square(size=3, color="black").encode(
    x=alt.X("obs:Q", scale=xF), y=alt.Y("pred:Q", scale=yF))
layers.append(alt.layer(f_diag, f_pts))
layers.append(texts([(458, 246, f"Pearson r = {f_r}"), (458, 257, f"p = {f_p}")], size=11))

# ====================== Panel H ======================
xH = lin([-0.05, 1.05], X(345.6), X(514.4))
yH = lin([-0.05, 1.05], Y(573.3), Y(462.7))
HFMT = "format(datum.value, '.2f')"
h_rows = []
for name, fx, ty, col in [("opt", h_opt_fpr, h_opt_tpr, h_colors[0]),
                          ("pro", h_pro_fpr, h_pro_tpr, h_colors[1]),
                          ("van", h_van_fpr, h_van_tpr, h_colors[2])]:
    for k, (a, b) in enumerate(zip(fx, ty)):
        h_rows.append({"m": name, "k": k, "fpr": a, "tpr": b, "c": col})
h_df = pd.DataFrame(h_rows)
h_diag = alt.Chart(pd.DataFrame({"fpr": [-0.05, 1.05], "tpr": [-0.05, 1.05]})).mark_line(
    color="#999999", strokeDash=[2, 2], strokeWidth=0.8).encode(
    x=alt.X("fpr:Q", scale=xH,
            axis=ax("bottom", 573.3, values=[0, 0.25, 0.5, 0.75, 1], labelExpr=HFMT,
                    title="False positive rate", tickSize=3, labelFontSize=10,
                    titleFontSize=10, labelColor="#333333", titlePadding=2)),
    y=alt.Y("tpr:Q", scale=yH,
            axis=ax("left", 345.6, values=[0, 0.25, 0.5, 0.75, 1], labelExpr=HFMT,
                    title="True positive rate", tickSize=3, labelFontSize=10,
                    titleFontSize=10, labelColor="#333333", titlePadding=3)))
h_lines = alt.Chart(h_df).mark_line(strokeWidth=1.3).encode(
    x=alt.X("fpr:Q", scale=xH), y=alt.Y("tpr:Q", scale=yH),
    color=alt.Color("c:N", scale=None), detail="m:N", order="k:Q")
layers.append(alt.layer(h_diag, h_lines))
layers.append(texts([(345, 447, "Validation of XGBoost 8 variable model")], size=10,
                    align="left"))
layers.append(texts([(427, 518, "Cohort"), (476, 518, "AUC")], size=11, weight="bold"))
layers.append(segs([(403, 525, 490, 525)], color="#999999", width=2))
for r, yy in enumerate([533, 546.5, 558.5]):
    layers.append(texts([(405, yy, h_cohorts[r]), (463, yy, f"{h_auc[r]:.3f}")], size=11,
                        align="left", color=h_colors[r]))

# ====================== panel letters ======================
layers.append(texts([(2, 38, "A"), (319, 35, "B"), (546, 35, "C"), (2, 241, "D"),
                     (164, 241, "E"), (337, 241, "F"), (2, 473, "G"), (290, 462, "H")],
                    size=37, align="left", baseline="alphabetic"))

chart = alt.layer(*layers).resolve_scale(x="independent", y="independent").properties(
    width=W, height=H, autosize=alt.AutoSizeParams(type="none"), padding=0
).configure_view(stroke=None).configure_axis(
    labelFont=FONT, titleFont=FONT, labelColor="black", titleColor="black",
    domainColor="black", tickColor="black", grid=False, titleFontWeight="normal",
    labelFontSize=11, titleFontSize=11, labelFlush=False
)

chart.save("out.html", embed_options={"renderer": "svg", "actions": False})
